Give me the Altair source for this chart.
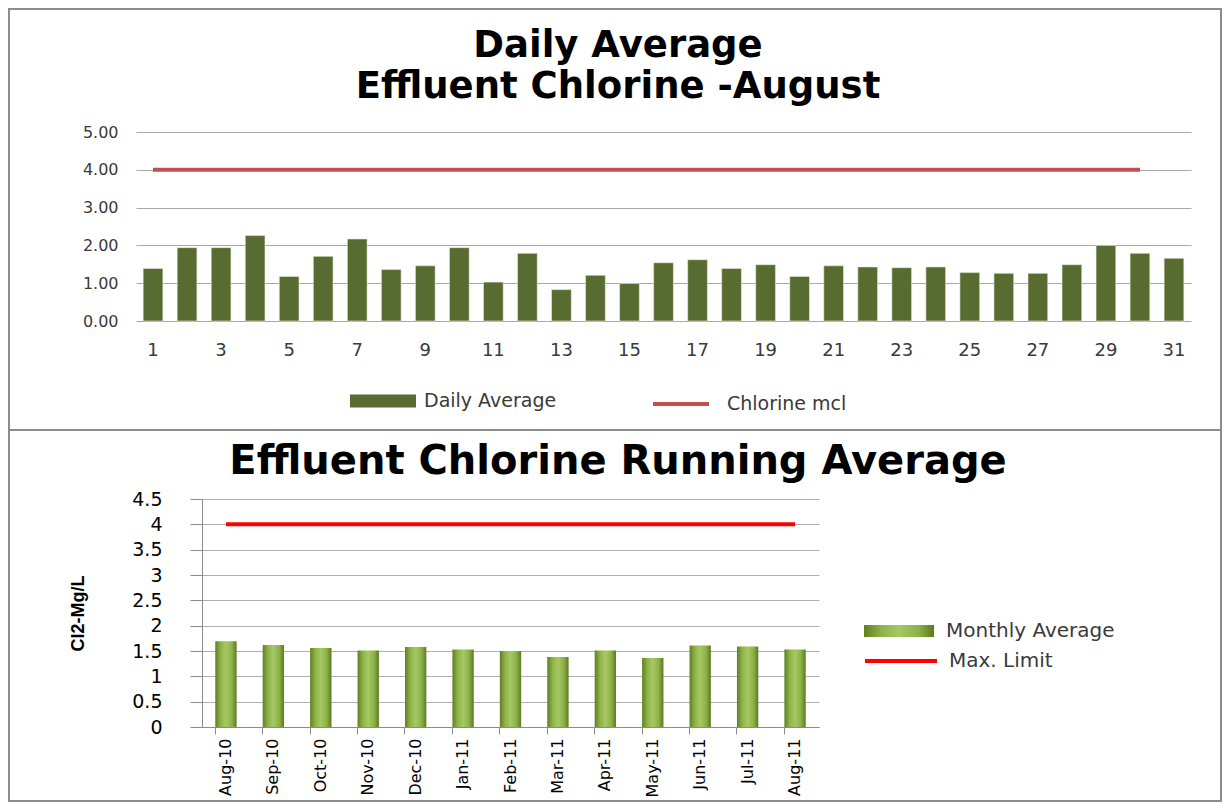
import altair as alt
import pandas as pd

# ---------------- data ----------------
days = list(range(1, 32))
daily_avg = [1.39, 1.94, 1.94, 2.26, 1.18, 1.71, 2.17, 1.36, 1.46, 1.94,
             1.03, 1.79, 0.83, 1.21, 0.99, 1.54, 1.62, 1.39, 1.49, 1.18,
             1.46, 1.43, 1.41, 1.43, 1.28, 1.26, 1.26, 1.49, 2.00, 1.79, 1.66]
mcl_days = list(range(1, 31))
mcl_values = [4, 4, 4, 4, 4, 4, 4, 4, 4, 4, 4, 4, 4, 4, 4,
              4, 4, 4, 4, 4, 4, 4, 4, 4, 4, 4, 4, 4, 4, 4]
odd_day_ticks = [1, 3, 5, 7, 9, 11, 13, 15, 17, 19, 21, 23, 25, 27, 29, 31]
top_y_ticks = [0, 1, 2, 3, 4, 5]

months = ["Aug-10", "Sep-10", "Oct-10", "Nov-10", "Dec-10", "Jan-11", "Feb-11",
          "Mar-11", "Apr-11", "May-11", "Jun-11", "Jul-11", "Aug-11"]
monthly_avg = [1.69, 1.62, 1.56, 1.51, 1.58, 1.53, 1.50, 1.38, 1.51, 1.36, 1.61, 1.59, 1.53]
max_limit = [4, 4, 4, 4, 4, 4, 4, 4, 4, 4, 4, 4, 4]
bottom_y_ticks = [0, 0.5, 1, 1.5, 2, 2.5, 3, 3.5, 4, 4.5]

top_title = ["Daily Average", "Effluent Chlorine -August"]
bottom_title = "Effluent Chlorine Running Average"

FONT = "DejaVu Sans"
LABEL_COLOR = "#3a3a3a"
BORDER = "#8c8c8c"

df_daily = pd.DataFrame({"day": days, "value": daily_avg, "s1": "Daily Average"})
df_mcl = pd.DataFrame({"day": mcl_days, "value": mcl_values, "s2": "Chlorine mcl"})
df_month = pd.DataFrame({"month": months, "value": monthly_avg, "s3": "Monthly Average"})
df_limit = pd.DataFrame({"month": months, "value": max_limit, "s4": "Max. Limit"})
df_one = pd.DataFrame({"k": [0]})

# ---------------- top panel ----------------
W1, H1 = 1055, 189

x_top = alt.X("day:O", title=None,
              scale=alt.Scale(domain=days, paddingInner=0.42, paddingOuter=0.21),
              axis=alt.Axis(values=odd_day_ticks, labelAngle=0, domain=False, ticks=False,
                            grid=False, labelPadding=20, labelFontSize=18,
                            labelFont=FONT, labelColor=LABEL_COLOR))
y_top = alt.Y("value:Q", title=None,
              scale=alt.Scale(domain=[0, 5], nice=False),
              axis=alt.Axis(values=top_y_ticks, format=".2f", domain=False, ticks=False,
                            grid=True, gridColor="#a8a8a8", gridWidth=1.2,
                            labelPadding=18, labelFontSize=16, labelFont=FONT,
                            labelColor=LABEL_COLOR))

border_top = alt.Chart(df_one).mark_rect(fillOpacity=0, stroke=BORDER, strokeWidth=2).encode(
    x=alt.value(-127), x2=alt.value(1085), y=alt.value(-123), y2=alt.value(298))

title_top_1 = alt.Chart(df_one).mark_text(
    font=FONT, fontSize=37, fontWeight="bold", color="#000000", align="center",
    baseline="alphabetic").encode(x=alt.value(482), y=alt.value(-75),
                                  text=alt.value(top_title[0]))
title_top_2 = alt.Chart(df_one).mark_text(
    font=FONT, fontSize=37, fontWeight="bold", color="#000000", align="center",
    baseline="alphabetic").encode(x=alt.value(482), y=alt.value(-34),
                                  text=alt.value(top_title[1]))

bars_top = alt.Chart(df_daily).mark_bar(stroke="#e8eedc", strokeWidth=0.6).encode(
    x=x_top, y=y_top,
    fill=alt.Fill("s1:N", scale=alt.Scale(domain=["Daily Average"], range=["#586b30"]),
                  legend=alt.Legend(orient="none", legendX=214, legendY=236, title=None,
                                    symbolType="M-1,-0.2H1V0.2H-1Z", symbolSize=4356,
                                    symbolStrokeWidth=0, labelFontSize=19, labelFont=FONT,
                                    labelColor=LABEL_COLOR, labelOffset=8, labelLimit=400)))

line_top = alt.Chart(df_mcl).mark_line(strokeWidth=4).encode(
    x=x_top, y=y_top,
    stroke=alt.Stroke("s2:N", scale=alt.Scale(domain=["Chlorine mcl"], range=["#c0504d"]),
                      legend=alt.Legend(orient="none", legendX=515, legendY=242, title=None,
                                        symbolType="stroke", symbolSize=3136,
                                        symbolStrokeWidth=4, labelFontSize=19, labelFont=FONT,
                                        labelColor=LABEL_COLOR, labelOffset=16,
                                        labelLimit=400)))

top = alt.layer(border_top, title_top_1, title_top_2, bars_top, line_top).properties(
    width=W1, height=H1
).resolve_scale(fill="independent", stroke="independent")

# ---------------- bottom panel ----------------
W2, H2 = 617, 228

x_bot = alt.X("month:N", title=None, sort=months,
              scale=alt.Scale(domain=months, paddingInner=0.55, paddingOuter=0.28),
              axis=alt.Axis(labelAngle=-90, domain=True, domainColor="#8a8a8a",
                            ticks=True, tickColor="#8a8a8a", tickSize=7, bandPosition=0,
                            grid=False, labelPadding=4, labelFontSize=16, labelFont=FONT,
                            labelColor="#000000"))
y_bot = alt.Y("value:Q", title="Cl2-Mg/L",
              scale=alt.Scale(domain=[0, 4.5], nice=False),
              axis=alt.Axis(values=bottom_y_ticks, format="~g", domain=True,
                            domainColor="#8a8a8a", ticks=True, tickColor="#8a8a8a",
                            tickSize=12, grid=True, gridColor="#b0b0b0",
                            labelPadding=28, labelFontSize=19, labelFont=FONT,
                            labelColor="#000000",
                            titleFont="Liberation Sans", titleFontWeight="bold",
                            titleFontSize=18, titleColor="#000000", titlePadding=44))

border_bot = alt.Chart(df_one).mark_rect(fillOpacity=0, stroke=BORDER, strokeWidth=2).encode(
    x=alt.value(-193), x2=alt.value(1019), y=alt.value(-69), y2=alt.value(302))

title_bot = alt.Chart(df_one).mark_text(
    font=FONT, fontSize=40, fontWeight="bold", color="#000000", align="center",
    baseline="alphabetic").encode(x=alt.value(416), y=alt.value(-25),
                                  text=alt.value(bottom_title))

bar_gradient = alt.LinearGradient(
    gradient="linear", x1=0, x2=1, y1=0, y2=0,
    stops=[alt.GradientStop(color="#5f7f22", offset=0),
           alt.GradientStop(color="#8fb348", offset=0.25),
           alt.GradientStop(color="#a6c865", offset=0.5),
           alt.GradientStop(color="#8db047", offset=0.78),
           alt.GradientStop(color="#5a7a20", offset=1)])

bars_bot = alt.Chart(df_month).mark_bar(fill=bar_gradient).encode(
    x=x_bot, y=y_bot,
    opacity=alt.Opacity("s3:N", scale=alt.Scale(domain=["Monthly Average"], range=[1]),
                        legend=alt.Legend(orient="none", legendX=662, legendY=97, title=None,
                                          symbolType="M-1,-0.17H1V0.17H-1Z", symbolSize=4900,
                                          symbolStrokeWidth=0, symbolFillColor="#8db047",
                                          symbolOpacity=1, labelFontSize=20,
                                          labelFont=FONT, labelColor=LABEL_COLOR,
                                          labelOffset=12, labelLimit=400)))

line_bot = alt.Chart(df_limit).mark_line(strokeWidth=4).encode(
    x=x_bot, y=y_bot,
    stroke=alt.Stroke("s4:N", scale=alt.Scale(domain=["Max. Limit"], range=["#ff0000"]),
                      legend=alt.Legend(orient="none", legendX=661, legendY=124, title=None,
                                        symbolType="stroke", symbolSize=5184,
                                        symbolStrokeWidth=4, labelFontSize=20,
                                        labelFont=FONT, labelColor=LABEL_COLOR,
                                        labelOffset=10, labelLimit=400)))

bottom = alt.layer(border_bot, title_bot, bars_bot, line_bot).properties(
    width=W2, height=H2
)

spacer = alt.Chart(df_one).mark_point(opacity=0).encode(
    x=alt.value(0), y=alt.value(0)).properties(width=66, height=H2)

bottom_row = alt.hconcat(spacer, bottom, spacing=0, bounds="flush").resolve_scale(
    stroke="independent", opacity="independent").resolve_legend(
    stroke="independent", opacity="independent")

chart = alt.vconcat(top, bottom_row, spacing=178, bounds="flush").resolve_scale(
    fill="independent", stroke="independent", opacity="independent"
).resolve_legend(
    fill="independent", stroke="independent", opacity="independent"
).properties(padding=0).configure_view(strokeWidth=0)

chart.save("out.html", embed_options={"renderer": "svg", "actions": False})
